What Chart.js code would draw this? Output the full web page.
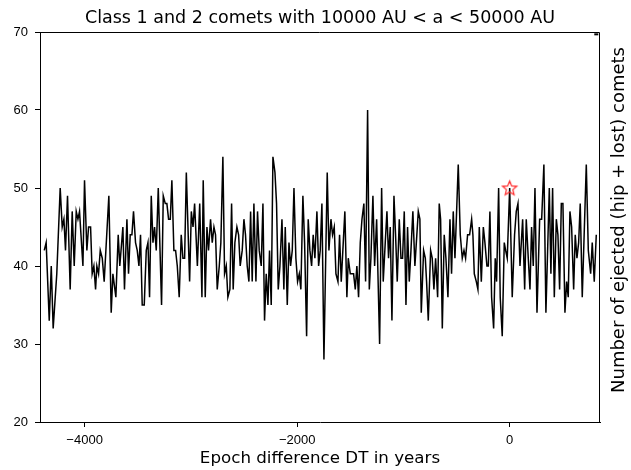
<!DOCTYPE html>
<html>
<head>
<meta charset="utf-8">
<title>Class 1 and 2 comets</title>
<script src="https://cdn.jsdelivr.net/npm/chart.js@4.4.0/dist/chart.umd.min.js"></script>
<style>
    html, body { margin: 0; padding: 0; background: #fff; }
    #wrap { width: 631px; height: 470px; }
</style>
</head>
<body>
<div id="wrap"><canvas id="cometChart"></canvas></div>
<script>
// ===================================
// Data
// ===================================

// epoch difference DT (years)
const epochs = [
    -4380, -4362, -4333, -4314, -4296, -4262, -4230, -4211, -4195, -4180,
    -4161, -4136, -4117, -4098, -4079, -4063, -4048, -4016, -4001, -3979,
    -3963, -3944, -3929, -3913, -3897, -3885, -3869, -3853, -3834, -3816,
    -3772, -3750, -3734, -3706,
    -3684, -3669, -3640, -3625, -3602, -3587, -3571, -3555, -3540, -3521,
    -3505, -3489, -3474, -3458, -3439, -3420, -3404, -3389, -3373, -3357,
    -3342, -3326, -3307, -3276, -3260, -3241, -3226, -3210, -3194, -3179,
    -3160, -3144, -3128, -3110, -3091, -3075, -3059, -3043, -3012, -2996,
    -2980, -2965, -2939, -2917,
    -2896, -2884, -2865, -2849, -2834, -2815, -2799, -2783, -2768, -2752,
    -2733, -2718, -2699, -2683, -2667, -2652, -2633, -2617, -2602, -2586,
    -2567, -2551, -2536, -2517, -2501, -2486, -2470, -2454, -2438, -2423,
    -2407, -2388, -2373, -2357, -2338, -2322, -2307, -2291, -2275, -2260,
    -2244, -2228, -2209, -2194, -2178, -2162,
    -2143, -2125, -2112, -2093, -2077, -2062, -2046, -2030, -2012, -1996,
    -1980, -1965, -1946, -1930, -1911, -1896, -1880, -1864, -1849, -1833,
    -1814, -1798, -1783, -1767, -1748, -1717, -1701, -1682, -1667, -1651,
    -1635, -1616, -1601, -1585, -1551, -1532, -1519, -1500, -1469, -1453,
    -1438, -1422, -1406,
    -1390, -1372, -1356, -1337, -1321, -1306, -1287, -1271, -1252, -1224,
    -1205, -1190, -1171, -1155, -1140, -1124, -1108, -1089, -1074, -1058,
    -1039, -1023, -1008, -992, -976, -961, -945, -929, -911, -892,
    -860, -845, -832, -810, -794, -782, -766, -744, -729, -713,
    -697, -678, -663,
    -650, -634, -616, -600, -581, -562, -547, -531, -515, -484,
    -465, -446, -430, -415, -396, -377, -358, -346, -333, -314,
    -299, -286, -267, -248, -233, -214, -201, -186, -170, -151,
    -136, -123, -104, -89, -70, -51, -38, -23, 0, 24,
    46, 62, 78, 97,
    122, 141, 156, 175, 191, 206, 222, 238, 257, 282,
    301, 322, 341, 373, 388, 404, 420, 439, 454, 470,
    486, 501, 520, 536, 551, 567, 583, 602, 617, 633,
    649, 664, 683, 721, 740, 762, 777, 796, 815
];

// number of ejected (hip + lost) comets
const counts = [
    42, 43, 33, 40, 32, 39, 50, 45, 46, 42,
    49, 37, 47, 40, 47, 46, 47, 40, 51, 42,
    45, 45, 39, 40, 37, 40, 39, 42, 41, 38,
    49, 34, 39, 36,
    44, 40, 45, 37, 46, 39, 44, 44, 47, 43,
    42, 40, 44, 35, 35, 42, 43, 36, 49, 43,
    45, 42, 50, 35, 49, 48, 48, 46, 46, 51,
    42, 42, 40, 36, 44, 41, 41, 52, 38, 47,
    45, 48, 40, 48,
    36, 51, 36, 45, 42, 46, 43, 45, 44, 37,
    40, 43, 54, 39, 40, 36, 37, 48, 37, 43,
    45, 44, 40, 42, 46, 44, 40, 38, 47, 38,
    48, 38, 47, 42, 40, 48, 33, 39, 35, 42,
    35, 54, 52, 48, 37, 40,
    46, 37, 45, 35, 43, 40, 42, 50, 41, 38,
    39, 37, 49, 43, 31, 46, 42, 40, 44, 41,
    47, 40, 42, 48, 28, 52, 42, 46, 44, 45,
    39, 38, 44, 38, 47, 36, 41, 39, 39, 37,
    40, 36, 43,
    46, 48, 38, 60, 37, 41, 49, 40, 46, 30,
    50, 38, 43, 47, 41, 45, 33, 49, 44, 38,
    46, 41, 41, 47, 35, 45, 38, 42, 47, 40,
    47, 46, 34, 42, 41, 38, 33, 42, 41, 37,
    41, 36, 48,
    46, 32, 44, 41, 36, 46, 39, 47, 41, 53,
    44, 41, 42, 41, 44, 44, 46, 44, 39, 38,
    37, 45, 38, 45, 43, 40, 40, 47, 36, 32,
    41, 38, 50, 36, 31, 43, 42, 41, 50, 36,
    44, 47, 48, 40,
    46, 37, 46, 41, 37, 45, 40, 50, 34, 46,
    46, 53, 34, 50, 39, 50, 36, 46, 44, 37,
    48, 48, 34, 38, 36, 47, 45, 37, 44, 41,
    43, 48, 36, 53, 42, 39, 43, 38, 44
];

// highlighted epoch (red star) and the small mark in the top-right corner
const starEpoch = [0];
const starCount = [50];
const cornerEpoch = [815];
const cornerCount = [69.7];

// axes
const xRange = [-4420, 850];
const xTicks = [-4000, -2000, 0];
const yRange = [20, 70];
const yStep = 10;

const chartTitle = 'Class 1 and 2 comets with 10000 AU < a < 50000 AU';
const xTitle = 'Epoch difference DT in years';
const rightTitle = 'Number of ejected (hip + lost) comets';

// ===================================
// Helpers
// ===================================

function toPoints(xs, ys) {
    return xs.map((x, i) => ({ x: x, y: ys[i] }));
}

// outlined five-pointed star used as point style
function makeStar(r, color) {
    const c = document.createElement('canvas');
    const size = Math.ceil(r * 2 + 4);
    c.width = size;
    c.height = size;
    const g = c.getContext('2d');
    g.strokeStyle = color;
    g.lineWidth = 1.2;
    g.beginPath();
    for (let i = 0; i < 10; i++) {
        const rad = i % 2 ? r * 0.45 : r;
        const a = -Math.PI / 2 + i * Math.PI / 5;
        const px = size / 2 + rad * Math.cos(a);
        const py = size / 2 + 0.6 + rad * Math.sin(a);
        if (i === 0) g.moveTo(px, py); else g.lineTo(px, py);
    }
    g.closePath();
    g.stroke();
    return c;
}

function fmtTick(value) {
    return value < 0 ? '\u2212' + Math.abs(value) : String(value);
}

// top + right frame lines and the rotated right-hand label
const framePlugin = {
    id: 'framePlugin',
    afterDraw(chart) {
        const ctx = chart.ctx;
        const a = chart.chartArea;
        ctx.save();
        ctx.strokeStyle = '#000';
        ctx.lineWidth = 1;
        ctx.beginPath();
        ctx.moveTo(Math.round(a.left), Math.round(a.top) + 0.5);
        ctx.lineTo(Math.round(a.right) - 0.5, Math.round(a.top) + 0.5);
        ctx.lineTo(Math.round(a.right) - 0.5, Math.round(a.bottom));
        ctx.stroke();

        ctx.translate(a.right + 19, (a.top + a.bottom) / 2 - 7);
        ctx.rotate(-Math.PI / 2);
        ctx.font = '18px "DejaVu Sans"';
        ctx.fillStyle = '#000';
        ctx.textAlign = 'center';
        ctx.textBaseline = 'middle';
        ctx.fillText(rightTitle, 0, 0);
        ctx.restore();
    }
};

// ===================================
// Chart
// ===================================

const ctx = document.getElementById('cometChart').getContext('2d');
const cometChart = new Chart(ctx, {
    type: 'line',
    data: {
        datasets: [
            {
                label: 'star',
                data: toPoints(starEpoch, starCount),
                showLine: false,
                pointStyle: makeStar(7.5, '#ff2a2a'),
                pointRadius: 7,
                order: 0
            },
            {
                label: 'corner',
                data: toPoints(cornerEpoch, cornerCount),
                showLine: false,
                pointStyle: 'line',
                pointRadius: 2,
                pointBorderWidth: 2,
                borderColor: '#000',
                order: 1
            },
            {
                label: 'ejected',
                data: toPoints(epochs, counts),
                borderColor: '#000',
                borderWidth: 1.5,
                pointRadius: 0,
                tension: 0,
                fill: false,
                order: 2
            }
        ]
    },
    options: {
        responsive: true,
        maintainAspectRatio: false,
        devicePixelRatio: 1,
        animation: false,
        layout: {
            padding: { left: 0, right: 31, top: 0, bottom: 0 }
        },
        plugins: {
            legend: { display: false },
            tooltip: { enabled: false },
            title: {
                display: true,
                text: chartTitle,
                fullSize: false,
                color: '#000',
                font: { family: 'DejaVu Sans', size: 17.5, weight: 'normal', lineHeight: '20px' },
                padding: { top: 8, bottom: 4 }
            }
        },
        scales: {
            x: {
                type: 'linear',
                position: 'bottom',
                min: xRange[0],
                max: xRange[1],
                afterBuildTicks: function(scale) {
                    scale.ticks = xTicks.map(v => ({ value: v }));
                },
                afterFit: function(scale) {
                    scale.height = 48;
                },
                ticks: {
                    color: '#000',
                    padding: 6,
                    maxRotation: 0,
                    font: { family: 'Liberation Sans', size: 13 },
                    callback: fmtTick
                },
                grid: {
                    drawOnChartArea: false,
                    drawTicks: true,
                    tickLength: 5,
                    color: '#000'
                },
                border: { display: true, color: '#000', width: 1 },
                title: {
                    display: true,
                    text: xTitle,
                    color: '#000',
                    font: { family: 'DejaVu Sans', size: 16.7 },
                    padding: { top: 0, bottom: 1 }
                }
            },
            y: {
                position: 'left',
                min: yRange[0],
                max: yRange[1],
                afterFit: function(scale) {
                    scale.width = 40;
                },
                ticks: {
                    stepSize: yStep,
                    color: '#000',
                    padding: 7,
                    font: { family: 'Liberation Sans', size: 13 },
                    callback: fmtTick
                },
                grid: {
                    drawOnChartArea: false,
                    drawTicks: true,
                    tickLength: 5,
                    color: '#000'
                },
                border: { display: true, color: '#000', width: 1 }
            }
        }
    },
    plugins: [framePlugin]
});
</script>
</body>
</html>
